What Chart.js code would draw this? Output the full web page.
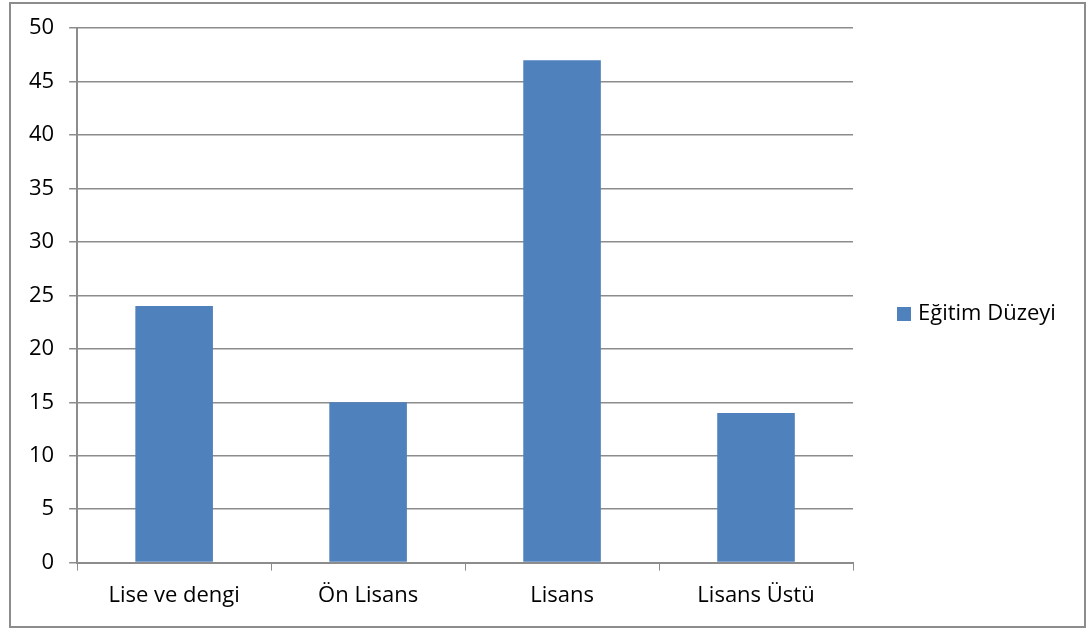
<!DOCTYPE html>
<html>
<head>
<meta charset="utf-8">
<script src="https://cdn.jsdelivr.net/npm/chart.js@4"></script>
<style>
    html, body { margin: 0; padding: 0; background: #fff; }
    #wrap { position: relative; width: 1092px; height: 630px; }
    #frame { position: absolute; left: 9px; top: 2px; width: 1073px; height: 622px; border: 2px solid #8c8c8c; pointer-events: none; }
    canvas { position: absolute; left: 0; top: 0; }
</style>
</head>
<body>
<div id="wrap">
    <canvas id="chart" width="1092" height="630"></canvas>
    <div id="frame"></div>
</div>
<script>
const categories = ['Lise ve dengi', 'Ön Lisans', 'Lisans', 'Lisans Üstü'];
const seriesName = 'Eğitim Düzeyi';
const values = [24, 15, 47, 14];
const yTicks = [0, 5, 10, 15, 20, 25, 30, 35, 40, 45, 50];

const FONT = '"Open Sans", "Noto Sans", sans-serif';
const GRID = '#8c8c8c';
const BAR = '#4F81BD';

Chart.defaults.font.family = FONT;
Chart.defaults.color = '#000';

// legend drawn by hand so it can sit away from the plot like the original
const sideLegend = {
    id: 'sideLegend',
    afterDraw(chart) {
        const c = chart.ctx;
        const ds = chart.data.datasets[0];
        const x = chart.chartArea.right + 44;
        const y = chart.height / 2 - 1;
        c.save();
        c.fillStyle = ds.backgroundColor;
        c.fillRect(x, y - 7, 14, 14);
        c.fillStyle = '#000';
        c.font = '22px ' + FONT;
        c.textBaseline = 'middle';
        c.fillText(ds.label, x + 21, y);
        c.restore();
    }
};

const ctx = document.getElementById('chart').getContext('2d');
new Chart(ctx, {
    type: 'bar',
    data: {
        labels: categories,
        datasets: [{
            label: seriesName,
            data: values,
            backgroundColor: BAR,
            borderWidth: 0,
            categoryPercentage: 1,
            barPercentage: 0.4
        }]
    },
    options: {
        responsive: false,
        animation: false,
        layout: { padding: { left: 14, top: 27, right: 239, bottom: 9 } },
        plugins: {
            legend: { display: false },
            tooltip: { enabled: false }
        },
        scales: {
            x: {
                grid: {
                    offset: true,
                    drawOnChartArea: false,
                    drawTicks: true,
                    tickLength: 8,
                    color: GRID
                },
                border: { color: GRID, width: 2 },
                ticks: { padding: 12, font: { size: 22 } }
            },
            y: {
                min: 0,
                max: 50,
                afterBuildTicks: (axis) => { axis.ticks = yTicks.map(v => ({ value: v })); },
                grid: {
                    color: GRID,
                    lineWidth: 1.5,
                    tickLength: 8
                },
                border: { color: GRID, width: 2 },
                ticks: { padding: 15, font: { size: 22 } }
            }
        }
    },
    plugins: [sideLegend]
});
</script>
</body>
</html>
